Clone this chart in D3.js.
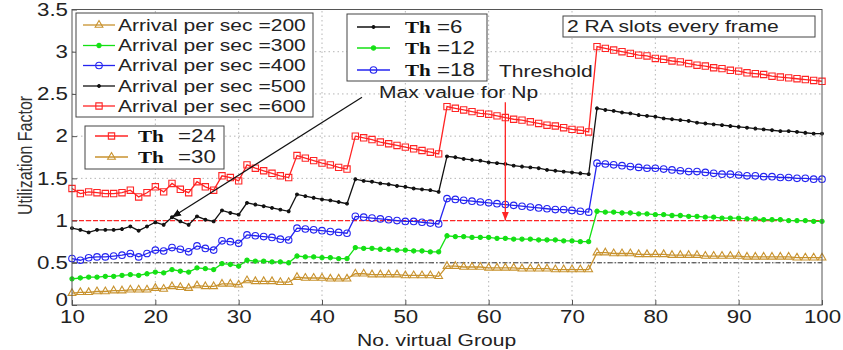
<!DOCTYPE html>
<html>
<head>
<meta charset="utf-8">
<script src="https://cdn.jsdelivr.net/npm/d3@7/dist/d3.min.js"></script>
<style>
  body { margin: 0; background: #fff; }
  svg { display: block; font-family: Arial, "Liberation Sans", sans-serif; }
</style>
</head>
<body>
<script>
// number of virtual groups (x axis)
const groups = d3.range(10, 101);

// utilization factor, one value per group 10..100
const arrival200 = [
  0.14,0.15,0.15,0.16,0.16,0.17,0.17,0.18,0.18,0.18,0.20,0.19,0.22,0.21,0.20,0.23,0.22,0.22,0.25,0.25,0.24,
  0.29,0.28,0.28,0.28,0.27,0.27,
  0.33,0.32,0.32,0.32,0.31,0.31,0.31,
  0.37,0.37,0.36,0.36,0.36,0.36,0.35,0.35,0.35,0.35,0.34,
  0.46,0.46,0.45,0.45,0.45,0.44,0.44,0.44,0.44,0.43,0.43,0.43,0.43,0.42,0.42,0.42,0.42,0.42,
  0.62,0.62,0.61,0.61,0.61,0.60,0.60,0.60,0.60,0.59,0.59,0.59,0.59,0.58,0.58,0.58,0.58,0.58,0.57,0.57,0.57,0.57,0.57,0.57,0.56,0.56,0.56,0.56
];
const arrival300 = [
  0.31,0.32,0.33,0.33,0.34,0.34,0.35,0.36,0.35,0.37,0.39,0.38,0.42,0.40,0.39,0.44,0.43,0.42,0.49,0.48,0.46,
  0.53,0.52,0.52,0.51,0.51,0.50,
  0.58,0.57,0.57,0.56,0.56,0.55,0.55,
  0.68,0.67,0.67,0.66,0.66,0.65,0.65,0.64,0.64,0.63,0.63,
  0.82,0.81,0.81,0.80,0.80,0.80,0.79,0.79,0.78,0.78,0.78,0.77,0.77,0.77,0.76,0.76,0.75,0.75,
  1.11,1.10,1.10,1.09,1.09,1.08,1.08,1.07,1.07,1.06,1.06,1.05,1.05,1.04,1.04,1.03,1.03,1.03,1.02,1.02,1.01,1.01,1.01,1.00,1.00,1.00,0.99,0.99
];
const arrival400 = [
  0.55,0.53,0.56,0.57,0.57,0.58,0.59,0.61,0.57,0.61,0.65,0.64,0.68,0.66,0.63,0.70,0.67,0.65,0.76,0.75,0.73,
  0.83,0.82,0.81,0.80,0.78,0.77,
  0.91,0.90,0.89,0.88,0.87,0.86,0.85,
  1.05,1.04,1.03,1.02,1.01,1.00,0.99,0.99,0.98,0.97,0.96,
  1.26,1.25,1.24,1.23,1.22,1.21,1.20,1.19,1.18,1.17,1.16,1.15,1.14,1.13,1.13,1.12,1.11,1.10,
  1.68,1.67,1.66,1.65,1.64,1.63,1.62,1.62,1.61,1.60,1.59,1.58,1.58,1.57,1.56,1.55,1.55,1.54,1.53,1.53,1.52,1.52,1.51,1.51,1.50,1.50,1.49,1.49
];
const arrival500 = [
  0.91,0.89,0.86,0.89,0.89,0.89,0.90,0.93,0.88,0.93,0.98,0.95,1.04,0.99,0.95,1.05,1.01,0.99,1.12,1.09,1.07,
  1.21,1.19,1.17,1.15,1.13,1.11,
  1.31,1.29,1.27,1.25,1.24,1.22,1.20,
  1.49,1.47,1.46,1.44,1.43,1.41,1.40,1.38,1.37,1.36,1.34,
  1.76,1.75,1.73,1.72,1.71,1.69,1.68,1.67,1.65,1.64,1.63,1.62,1.60,1.59,1.58,1.57,1.56,1.55,
  2.33,2.31,2.30,2.28,2.27,2.25,2.24,2.23,2.21,2.20,2.19,2.18,2.16,2.15,2.14,2.13,2.12,2.11,2.10,2.09,2.08,2.07,2.06,2.06,2.05,2.04,2.03,2.03
];
const arrival600 = [
  1.38,1.32,1.34,1.33,1.32,1.32,1.33,1.36,1.28,1.33,1.40,1.34,1.44,1.37,1.33,1.46,1.40,1.36,1.53,1.51,1.47,
  1.66,1.62,1.59,1.56,1.53,1.51,
  1.77,1.74,1.71,1.68,1.66,1.63,1.61,
  2.00,1.98,1.96,1.93,1.91,1.89,1.87,1.85,1.83,1.81,1.79,
  2.35,2.33,2.31,2.29,2.27,2.26,2.24,2.22,2.20,2.19,2.17,2.15,2.13,2.12,2.10,2.08,2.07,2.05,
  3.06,3.04,3.02,3.00,2.98,2.96,2.95,2.92,2.91,2.89,2.88,2.86,2.84,2.83,2.81,2.80,2.78,2.77,2.75,2.74,2.73,2.71,2.70,2.69,2.68,2.67,2.66,2.65
];

const xTicks = [10, 20, 30, 40, 50, 60, 70, 80, 90, 100];
const yTicks = [0, 0.5, 1, 1.5, 2, 2.5, 3, 3.5];
const yTickLabels = ["0", "0.5", "1", "1.5", "2", "2.5", "3", "3.5"];

const arrivalLabels = ["Arrival per sec =200", "Arrival per sec =300", "Arrival per sec =400",
                       "Arrival per sec =500", "Arrival per sec =600"];
const thLabels = ["=30", "=12", "=18", "=6", "=24"];

// annotations, in data units
const maxNpPoint = [22, 1.04];
const maxNpLineEnd = [44.8, 2.46];
const thresholdX = 62;
const thresholdTop = 2.4;
const refLine = 1;
const refLine2 = 0.5;

const W = 843, H = 350;
const SX = 1.24; // the original figure was stretched sideways

const x = d3.scaleLinear().domain([10, 100]).range([72, 822]);
const y = d3.scaleLinear().domain([0, 3.5]).range([305, 9.5]);

const colors = { brown: "#c8922e", green: "#14e014", blue: "#2424f0", black: "#111", red: "#ff2424" };

const series = [
  { values: arrival200, color: colors.brown, symbol: d3.symbolTriangle, size: 26, fill: "none" },
  { values: arrival300, color: colors.green, symbol: d3.symbolCircle, size: 14, fill: colors.green },
  { values: arrival400, color: colors.blue, symbol: d3.symbolCircle, size: 34, fill: "none" },
  { values: arrival500, color: colors.black, symbol: d3.symbolCircle, size: 6, fill: colors.black },
  { values: arrival600, color: colors.red, symbol: d3.symbolSquare, size: 40, fill: "none" }
];

const svg = d3.select("body").append("svg")
    .attr("width", W)
    .attr("height", H);

svg.append("rect").attr("width", W).attr("height", H).attr("fill", "#fff");

svg.append("defs").selectAll("marker")
    .data([["head-black", colors.black], ["head-red", colors.red]])
    .enter().append("marker")
    .attr("id", d => d[0])
    .attr("viewBox", "0 0 10 10")
    .attr("refX", 10).attr("refY", 5)
    .attr("markerWidth", 9).attr("markerHeight", 9)
    .attr("markerUnits", "userSpaceOnUse")
    .attr("orient", "auto")
    .append("path")
    .attr("d", "M0,1 L10,5 L0,9 Z")
    .attr("fill", d => d[1]);

function addText(parent, px, py, str, size){
    return parent.append("g")
        .attr("transform", `translate(${px},${py}) scale(${SX},1)`)
        .append("text")
        .attr("font-size", size)
        .attr("dy", "0.35em")
        .attr("fill", "#222")
        .text(str);
}

// grid
const grid = svg.append("g").attr("stroke", "#b5b5b5").attr("stroke-width", 1).attr("stroke-dasharray", "1.5,3");
grid.selectAll(".gx").data(xTicks.slice(1, -1)).enter().append("line")
    .attr("x1", d => x(d)).attr("x2", d => x(d))
    .attr("y1", y(0)).attr("y2", y(3.5));
grid.selectAll(".gy").data(yTicks.slice(1, -1)).enter().append("line")
    .attr("x1", x(10)).attr("x2", x(100))
    .attr("y1", d => y(d)).attr("y2", d => y(d));

// reference lines
svg.append("line")
    .attr("x1", x(10)).attr("x2", x(100))
    .attr("y1", y(refLine2)).attr("y2", y(refLine2))
    .attr("stroke", "#333").attr("stroke-dasharray", "5,2,1.5,2");
svg.append("line")
    .attr("x1", x(10)).attr("x2", x(100))
    .attr("y1", y(refLine)).attr("y2", y(refLine))
    .attr("stroke", colors.red).attr("stroke-width", 1.2).attr("stroke-dasharray", "5,2");

// series
const line = d3.line().x((d, i) => x(groups[i])).y(d => y(d));

series.forEach(s => {
    const g = svg.append("g");
    g.append("path")
        .attr("d", line(s.values))
        .attr("fill", "none")
        .attr("stroke", s.color)
        .attr("stroke-width", 1.3);
    g.selectAll("path.pt").data(s.values).enter().append("path")
        .attr("class", "pt")
        .attr("transform", (d, i) => `translate(${x(groups[i])},${y(d)})`)
        .attr("d", d3.symbol(s.symbol, s.size))
        .attr("fill", s.fill)
        .attr("stroke", s.color)
        .attr("stroke-width", 1.1);
});

// annotations
svg.append("line")
    .attr("x1", x(maxNpLineEnd[0])).attr("y1", y(maxNpLineEnd[1]))
    .attr("x2", x(maxNpPoint[0])).attr("y2", y(maxNpPoint[1]))
    .attr("stroke", colors.black).attr("stroke-width", 1.2)
    .attr("marker-end", "url(#head-black)");
svg.append("line")
    .attr("x1", x(thresholdX)).attr("y1", y(thresholdTop))
    .attr("x2", x(thresholdX)).attr("y2", y(refLine))
    .attr("stroke", colors.red).attr("stroke-width", 1.3)
    .attr("marker-end", "url(#head-red)");

addText(svg, 379, 92, "Max value for Np", 17);
addText(svg, 499, 71, "Threshold", 17);

// frame
svg.append("rect")
    .attr("x", x(10)).attr("y", y(3.5))
    .attr("width", x(100) - x(10)).attr("height", y(0) - y(3.5))
    .attr("fill", "none").attr("stroke", "#555");

// axes with inward ticks
const xAxis = svg.append("g")
    .attr("transform", `translate(0,${y(0)})`)
    .call(d3.axisBottom(x).tickValues(xTicks).tickSize(-5).tickPadding(5).tickFormat(d3.format("d")));
const yAxis = svg.append("g")
    .attr("transform", `translate(${x(10)},0)`)
    .call(d3.axisLeft(y).tickValues(yTicks).tickSize(-5).tickPadding(4)
        .tickFormat((d, i) => yTickLabels[i]));
[xAxis, yAxis].forEach(a => {
    a.select(".domain").remove();
    a.selectAll(".tick line").attr("stroke", "#555");
    a.selectAll(".tick text")
        .attr("font-size", 18)
        .attr("font-family", "Arial, 'Liberation Sans', sans-serif")
        .attr("fill", "#222")
        .attr("transform", `scale(${SX},1)`);
});
xAxis.selectAll(".tick text").attr("dy", "0.72em");
yAxis.selectAll(".tick text").attr("x", -4 / SX);
// lift the "0" label a little so it clears the "10" below it
yAxis.selectAll(".tick text").filter(d => d === 0).attr("dy", "0.05em");

// axis titles
addText(svg, 357, 340, "No.  virtual Group", 17);
svg.append("g")
    .attr("transform", `translate(32,215) rotate(-90) scale(1,${SX})`)
    .append("text")
    .attr("font-size", 16)
    .attr("fill", "#333")
    .text("Utilization Factor");

// legend helpers
function legendSample(g, x1, x2, cy, s){
    g.append("line").attr("x1", x1).attr("x2", x2).attr("y1", cy).attr("y2", cy)
        .attr("stroke", s.color).attr("stroke-width", 1.3);
    g.append("path")
        .attr("transform", `translate(${(x1 + x2) / 2},${cy})`)
        .attr("d", d3.symbol(s.symbol, s.size))
        .attr("fill", s.fill).attr("stroke", s.color).attr("stroke-width", 1.1);
}
function legendBox(px, py, w, h){
    const g = svg.append("g");
    g.append("rect").attr("x", px).attr("y", py).attr("width", w).attr("height", h)
        .attr("fill", "#fff").attr("stroke", "#444");
    return g;
}
function thLabel(g, px, cy, eqX, str){
    g.append("g").attr("transform", `translate(${px},${cy}) scale(${SX},1)`)
        .append("text").attr("font-family", "'Liberation Serif', 'DejaVu Serif', serif")
        .attr("font-weight", "bold").attr("font-size", 17).attr("dy", "0.35em").attr("fill", "#111")
        .text("Th");
    addText(g, eqX, cy, str, 18);
}

// arrival legend
const leg1 = legendBox(76, 13, 237, 104);
const rows1 = [25, 45.5, 65.5, 86, 106];
series.forEach((s, i) => {
    legendSample(leg1, 83, 115, rows1[i], s);
    addText(leg1, 118, rows1[i], arrivalLabels[i], 17);
});

// threshold legends
const leg2 = legendBox(85, 126, 139, 43);
[[4, 136], [0, 157]].forEach(([si, cy]) => {
    legendSample(leg2, 95, 128, cy, series[si]);
    thLabel(leg2, 138, cy, 178, thLabels[si]);
});

const leg3 = legendBox(347, 14, 140, 67);
[[3, 27], [1, 48], [2, 70]].forEach(([si, cy]) => {
    legendSample(leg3, 357, 390, cy, series[si]);
    thLabel(leg3, 405, cy, 437, thLabels[si]);
});

// note box
const note = legendBox(563, 16, 252, 21);
addText(note, 567, 26.5, "2 RA slots every frame", 17);
</script>
</body>
</html>
